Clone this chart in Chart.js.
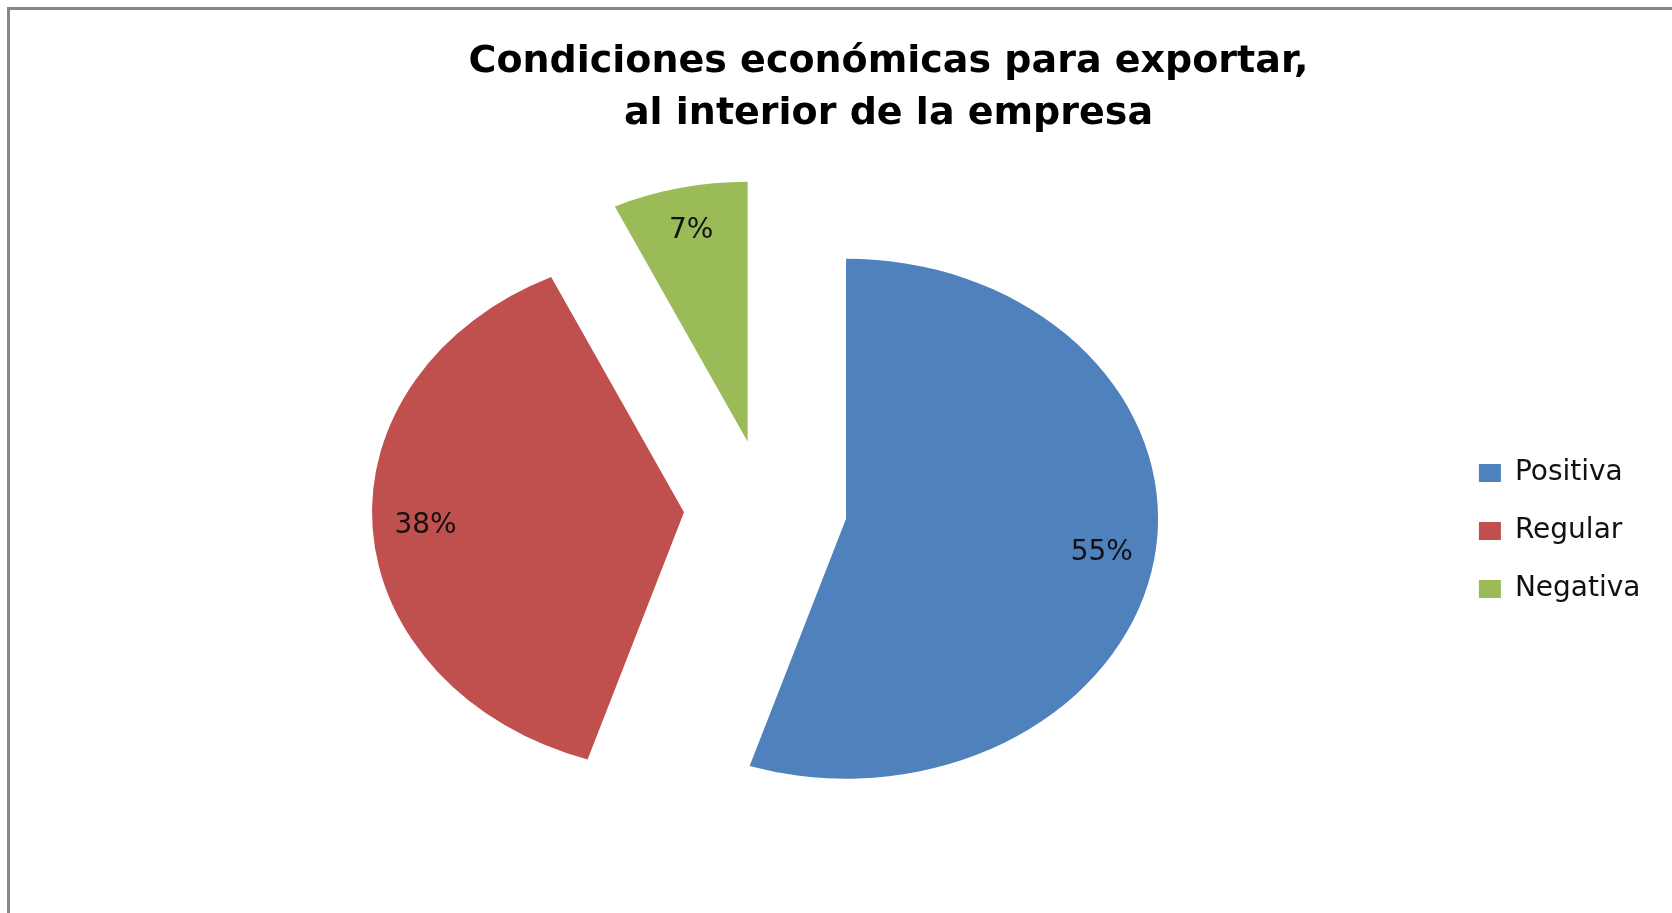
<!DOCTYPE html>
<html>
<head>
<meta charset="utf-8">
<script src="https://cdn.jsdelivr.net/npm/chart.js@4.4.1/dist/chart.umd.min.js"></script>
<style>
  html, body { margin: 0; padding: 0; background: #fff; }
  .wrap { position: relative; width: 1672px; height: 913px; overflow: hidden; }
  .frame {
    position: absolute; left: 7px; top: 7px; width: 1700px; height: 950px;
    border-top: 3px solid #868686; border-left: 3px solid #868686;
  }
  canvas { position: absolute; left: 0; top: 0; }
</style>
</head>
<body>
<div class="wrap">
  <div class="frame"></div>
  <canvas id="chart" width="1672" height="913"></canvas>
</div>
<script>
const titleLines = ["Condiciones económicas para exportar,", "al interior de la empresa"];
const categories = ["Positiva", "Regular", "Negativa"];
const shares = [55, 38, 7];
const sliceColors = ["#4F81BD", "#C0504D", "#9BBB59"];

const stretchX = 1.2;   // the original pie is drawn as a wide ellipse
const explode = 68;     // every slice is pulled out along its middle angle
const labelAt = 0.83;   // label distance from the slice point, as part of the radius
const fontFamily = "DejaVu Sans";

const ellipsePie = {
  id: "ellipsePie",
  afterDatasetsUpdate(chart) {
    chart.getDatasetMeta(0).data.forEach((arc) => {
      const mid = (arc.startAngle + arc.endAngle) / 2;
      arc.x += Math.cos(mid) * explode;
      arc.y += Math.sin(mid) * explode;
    });
  },
  beforeDatasetsDraw(chart) {
    const { ctx, chartArea } = chart;
    const cx = (chartArea.left + chartArea.right) / 2;
    ctx.save();
    ctx.translate(cx, 0);
    ctx.scale(stretchX, 1);
    ctx.translate(-cx, 0);
  },
  afterDatasetsDraw(chart) {
    const { ctx, chartArea } = chart;
    ctx.restore();

    const cx = (chartArea.left + chartArea.right) / 2;
    const values = chart.data.datasets[0].data;
    const total = values.reduce((a, b) => a + b, 0);

    ctx.save();
    ctx.font = `28px '${fontFamily}'`;
    ctx.fillStyle = "#111";
    ctx.textAlign = "center";
    ctx.textBaseline = "middle";
    chart.getDatasetMeta(0).data.forEach((arc, i) => {
      const mid = (arc.startAngle + arc.endAngle) / 2;
      const r = arc.outerRadius * labelAt;
      const x = cx + (arc.x + Math.cos(mid) * r - cx) * stretchX;
      const y = arc.y + Math.sin(mid) * r;
      ctx.fillText(`${Math.round(values[i] / total * 100)}%`, x, y);
    });
    ctx.restore();
  },
};

const pieLegendLabels = Chart.overrides.pie.plugins.legend.labels.generateLabels;

new Chart(document.getElementById("chart"), {
  type: "pie",
  data: {
    labels: categories,
    datasets: [{
      data: shares,
      backgroundColor: sliceColors,
      borderWidth: 0,
      clip: false,
    }],
  },
  options: {
    responsive: false,
    animation: false,
    events: [],
    layout: {
      padding: { top: 20, bottom: 145, left: 82, right: -23 },
    },
    plugins: {
      title: {
        display: true,
        text: titleLines,
        color: "#000",
        font: { family: fontFamily, size: 38, weight: "bold", lineHeight: 52 / 38 },
        padding: { top: 16, bottom: 108 },
      },
      legend: {
        position: "right",
        fullSize: false,
        title: { display: true, text: "", padding: { top: 31.6, bottom: 0 } },
        labels: {
          color: "#111",
          font: { family: fontFamily, size: 28 },
          boxWidth: 22,
          boxHeight: 18,
          padding: 30,
          // trailing blanks widen the legend box so the title centres like the original
          generateLabels(chart) {
            return pieLegendLabels(chart).map((item) => ({ ...item, text: item.text + "     " }));
          },
        },
      },
      tooltip: { enabled: false },
    },
  },
  plugins: [ellipsePie],
});
</script>
</body>
</html>
